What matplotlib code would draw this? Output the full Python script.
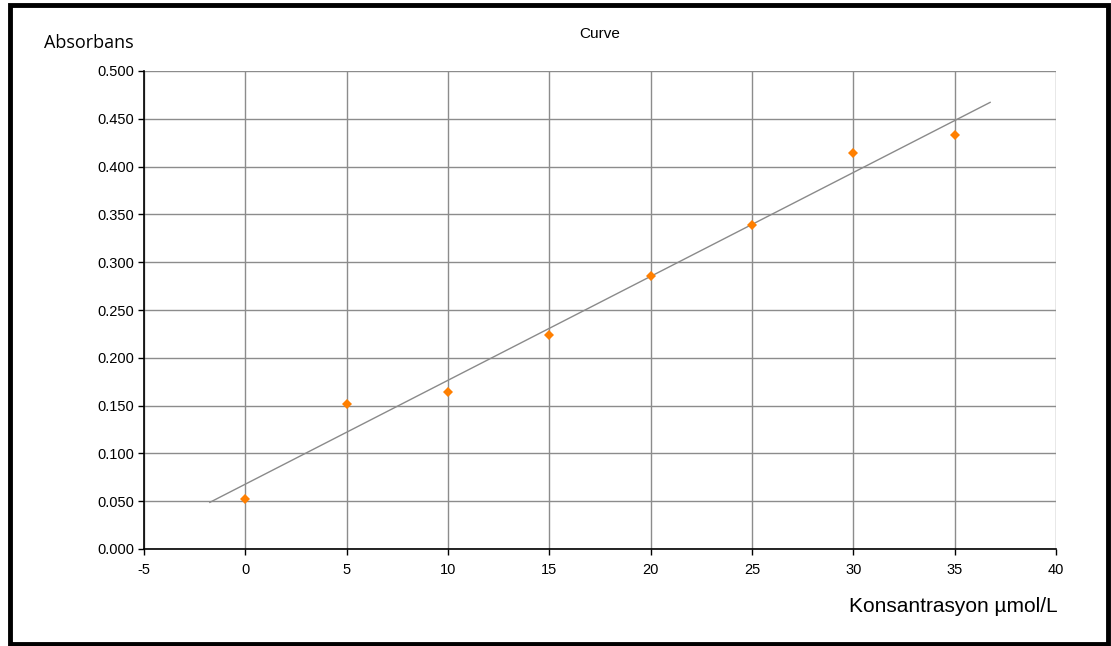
import numpy as np
import matplotlib.pyplot as plt
from matplotlib.patches import Rectangle

plt.rcParams['axes.unicode_minus'] = False

# calibration data
konsantrasyon = [0, 5, 10, 15, 20, 25, 30, 35]
absorbans = [0.052, 0.152, 0.164, 0.224, 0.286, 0.339, 0.414, 0.433]
x_ticks = [-5, 0, 5, 10, 15, 20, 25, 30, 35, 40]
y_ticks = [0.0, 0.05, 0.1, 0.15, 0.2, 0.25, 0.3, 0.35, 0.4, 0.45, 0.5]

fig = plt.figure(figsize=(11.11, 6.46), dpi=100)
ax = fig.add_axes([144 / 1111, 1 - 549 / 646, (1056 - 144) / 1111, (549 - 71) / 646])

# linear trend line, extended a little past the data
slope, intercept = np.polyfit(konsantrasyon, absorbans, 1)
ext = 1.75
xs = np.array([min(konsantrasyon) - ext, max(konsantrasyon) + ext])
ax.plot(xs, slope * xs + intercept, color='#8a8a8a', lw=1.0, zorder=3)

ax.plot(konsantrasyon, absorbans, linestyle='none', marker='D', markersize=5,
        color='#ff7f00', markeredgewidth=0, zorder=4)

ax.set_xlim(-5, 40)
ax.set_ylim(0, 0.5)
ax.set_xticks(x_ticks)
ax.set_yticks(y_ticks)
ax.set_yticklabels([f'{v:.3f}' for v in y_ticks])
ax.grid(True, color='#8c8c8c', lw=1.0)
ax.set_axisbelow(True)

for side in ['top', 'right']:
    ax.spines[side].set_visible(False)
for side in ['left', 'bottom']:
    ax.spines[side].set_color('black')
    ax.spines[side].set_linewidth(1.2)

ax.tick_params(direction='out', length=4, width=1, color='black', labelsize=10.5)
ax.tick_params(axis='x', pad=6)
ax.tick_params(axis='y', pad=3)
for lbl in ax.get_xticklabels() + ax.get_yticklabels():
    lbl.set_family('Liberation Sans')

ax.set_title('Curve', fontsize=11, family='Liberation Sans', pad=24)
fig.text(44 / 1111, 1 - 43 / 646, 'Absorbans', fontsize=13, family='Open Sans',
         va='center', ha='left')
fig.text(1058 / 1111, 1 - 607 / 646, 'Konsantrasyon µmol/L', fontsize=15,
         family='Liberation Sans', va='center', ha='right')

# black frame round the chart
fig.patches.append(Rectangle((9.5 / 1111, 2 / 646), 1098.5 / 1111, 639 / 646,
                             transform=fig.transFigure, fill=False,
                             edgecolor='black', lw=3.5))

fig.savefig('out.png', dpi=100)
